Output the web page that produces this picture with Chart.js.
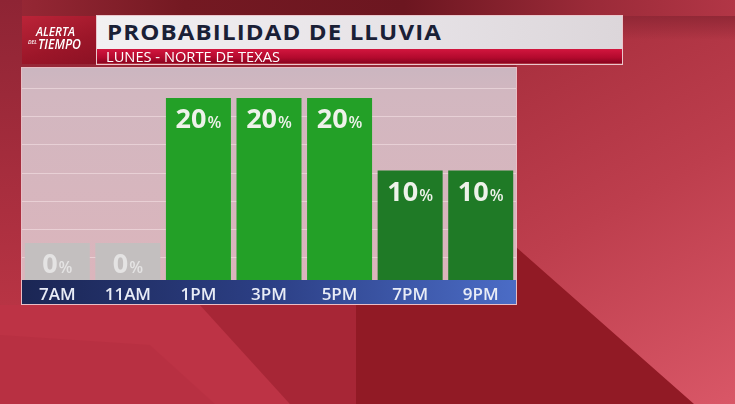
<!DOCTYPE html>
<html><head><meta charset="utf-8">
<script src="https://cdn.jsdelivr.net/npm/chart.js@4.4.1/dist/chart.umd.min.js"></script>
<style>
html,body{margin:0;padding:0;width:735px;height:404px;overflow:hidden;background:#a02030;}
#wrap{position:relative;width:735px;height:404px;}
#c{position:absolute;left:0;top:0;}
.t{position:absolute;white-space:nowrap;transform-origin:0 0;font-family:"Open Sans",sans-serif;line-height:1;}
#titleBox{position:absolute;left:97px;top:16px;width:525px;height:33px;background:linear-gradient(90deg,#f2f0f2,#e6e2e6 60%,#dcd6da);}
#subBox{position:absolute;left:97px;top:49px;width:525px;height:14px;background:linear-gradient(180deg,#d2163e,#b40a2e 60%,#8a0420);}
#frame{position:absolute;left:96px;top:15px;width:525px;height:48px;border:1px solid #ebc6cc;}
#logo{position:absolute;left:22px;top:16px;width:74px;height:48px;background:linear-gradient(160deg,#bb2438,#9c1629 60%,#8c1124);}
#title{left:107px;top:21px;font-size:21.5px;font-weight:700;color:#1a2036;letter-spacing:1px;}
#sub{left:106px;top:50px;font-size:14.4px;font-weight:500;color:#ffffff;}
#l1{left:36px;top:25px;font-size:13px;font-weight:600;font-style:italic;color:#fff;}
#l2{left:38px;top:37px;font-size:14px;font-weight:600;font-style:italic;color:#fff;}
#l3{left:28px;top:39px;font-size:6px;font-weight:600;font-style:italic;color:#fff;}
</style></head>
<body>
<div id="wrap">
<canvas id="c" width="735" height="404"></canvas>
<div id="logo"></div>
<div id="frame"></div>
<div id="titleBox"></div>
<div id="subBox"></div>
<div class="t" id="title">PROBABILIDAD DE LLUVIA</div>
<div class="t" id="sub">LUNES - NORTE DE TEXAS</div>
<div class="t" id="l1">ALERTA</div>
<div class="t" id="l3">DEL</div>
<div class="t" id="l2">TIEMPO</div>
</div>
<script>
// ---- data ----
const categories = ['7AM', '11AM', '1PM', '3PM', '5PM', '7PM', '9PM'];
const rainChance = [0, 0, 20, 20, 20, 10, 10];
const percentSign = '%';

// ---- styling ----
const Y_MIN = -5.1, Y_MAX = 24.14;
const barColorByValue = {0: '#c3bfbf', 10: '#1f7a26', 20: '#23a027'};
const labelColorByValue = {0: '#e4e3e3', 10: '#eef2ea', 20: '#eef2ea'};

function fit(id, w) {
  const el = document.getElementById(id);
  const cw = el.getBoundingClientRect().width;
  el.style.transform = 'scaleX(' + (w / cw) + ')';
}

function poly(ctx, pts, fill) {
  ctx.fillStyle = fill;
  ctx.beginPath();
  ctx.moveTo(pts[0][0], pts[0][1]);
  for (let i = 1; i < pts.length; i++) ctx.lineTo(pts[i][0], pts[i][1]);
  ctx.closePath();
  ctx.fill();
}

const bgPlugin = {
  id: 'bg',
  beforeDraw(chart) {
    const ctx = chart.ctx, W = chart.width, H = chart.height;
    ctx.save();
    ctx.fillStyle = '#b3303f';
    ctx.fillRect(0, 0, W, H);
    // right region
    let g = ctx.createLinearGradient(516, 0, 735, 404);
    g.addColorStop(0, '#a42c3b');
    g.addColorStop(0.5, '#bd3e4d');
    g.addColorStop(1, '#d95767');
    ctx.fillStyle = g; ctx.fillRect(516, 0, W - 516, H);
    // top band
    g = ctx.createLinearGradient(0, 0, W, 0);
    g.addColorStop(0, '#9a2937');
    g.addColorStop(0.25, '#741922');
    g.addColorStop(0.55, '#6c1620');
    g.addColorStop(0.8, '#9a2a38');
    g.addColorStop(1, '#b23646');
    ctx.fillStyle = g; ctx.fillRect(0, 0, W, 16);
    g = ctx.createLinearGradient(0, 16, 0, 40);
    g.addColorStop(0, 'rgba(140,38,52,0.85)');
    g.addColorStop(1, 'rgba(140,38,52,0)');
    ctx.fillStyle = g; ctx.fillRect(622, 16, W - 622, 24);
    // left strip
    g = ctx.createLinearGradient(0, 0, 0, 305);
    g.addColorStop(0, '#8e2434');
    g.addColorStop(1, '#b83444');
    ctx.fillStyle = g; ctx.fillRect(0, 0, 22, 305);
    ctx.fillRect(22, 64, 494, 4);
    // bottom left lighter
    poly(ctx, [[0, 305], [200, 305], [290, 404], [0, 404]], '#bd3345');
    poly(ctx, [[0, 335], [150, 345], [215, 404], [0, 404]], 'rgba(170,40,58,0.25)');
    // band
    poly(ctx, [[200, 305], [356, 305], [356, 404], [290, 404]], '#a72636');
    // dark region
    poly(ctx, [[356, 305], [516, 305], [516, 247], [694, 404], [356, 404]], '#911a25');

    // panel
    const a = chart.chartArea;
    g = ctx.createLinearGradient(0, a.top, 0, a.bottom);
    g.addColorStop(0, '#cbb6c0');
    g.addColorStop(0.12, '#d2b7c0');
    g.addColorStop(1, '#dbb5bc');
    ctx.fillStyle = g;
    ctx.fillRect(a.left, a.top, a.right - a.left, a.bottom - a.top);
    // axis bar
    const xs = chart.scales.x;
    g = ctx.createLinearGradient(a.left, 0, a.right, 0);
    g.addColorStop(0, '#1b2654');
    g.addColorStop(0.5, '#2c3f85');
    g.addColorStop(1, '#4b6cc6');
    ctx.fillStyle = g;
    ctx.fillRect(a.left, a.bottom, a.right - a.left, xs.bottom - a.bottom);
    ctx.strokeStyle = 'rgba(240,205,212,0.9)';
    ctx.lineWidth = 1;
    ctx.strokeRect(a.left - 0.5, a.top - 0.5, a.right - a.left + 1, xs.bottom - a.top + 1);
    ctx.restore();
  }
};

const labelPlugin = {
  id: 'barLabels',
  afterDatasetsDraw(chart) {
    const ctx = chart.ctx;
    const meta = chart.getDatasetMeta(0);
    ctx.save();
    ctx.textBaseline = 'alphabetic';
    ctx.textAlign = 'left';
    meta.data.forEach((bar, i) => {
      const v = rainChance[i];
      const num = String(v);
      ctx.font = '700 27px "Open Sans"';
      const nw = ctx.measureText(num).width;
      ctx.font = '600 16px "Open Sans"';
      const pw = ctx.measureText(percentSign).width;
      const gap = 1;
      const x0 = bar.x - (nw + gap + pw) / 2;
      const yb = bar.y + 30;
      ctx.fillStyle = labelColorByValue[v];
      ctx.font = '700 27px "Open Sans"';
      ctx.fillText(num, x0, yb);
      ctx.font = '600 16px "Open Sans"';
      ctx.fillText(percentSign, x0 + nw + gap, yb);
    });
    ctx.restore();
  }
};

new Chart(document.getElementById('c'), {
  type: 'bar',
  data: {
    labels: categories,
    datasets: [{
      data: rainChance,
      base: Y_MIN,
      backgroundColor: rainChance.map(v => barColorByValue[v]),
      borderWidth: 0,
      categoryPercentage: 1,
      barPercentage: 0.921
    }]
  },
  options: {
    responsive: false,
    animation: false,
    events: [],
    layout: {padding: {left: 22, right: 219, top: 68, bottom: 100}},
    plugins: {legend: {display: false}, tooltip: {enabled: false}, title: {display: false}},
    scales: {
      x: {
        grid: {display: false},
        border: {display: false},
        ticks: {color: '#e8ecf6', font: {family: 'Open Sans', size: 17, weight: '600'}, padding: -3, maxRotation: 0, autoSkip: false},
        afterFit: s => { s.height = 24; }
      },
      y: {display: false, min: Y_MIN, max: Y_MAX},
      y2: {
        position: 'left',
        min: -0.777, max: 6.71,
        ticks: {display: false, stepSize: 1},
        border: {display: false},
        grid: {
          drawTicks: false,
          color: c => (Number.isInteger(c.tick.value) ? 'rgba(255,240,242,0.45)' : 'rgba(0,0,0,0)'),
          lineWidth: 1
        }
      }
    }
  },
  plugins: [bgPlugin, labelPlugin]
});

fit('title', 335);
fit('sub', 174);
fit('l1', 39);
fit('l2', 43);
fit('l3', 9);
</script>
</body></html>
